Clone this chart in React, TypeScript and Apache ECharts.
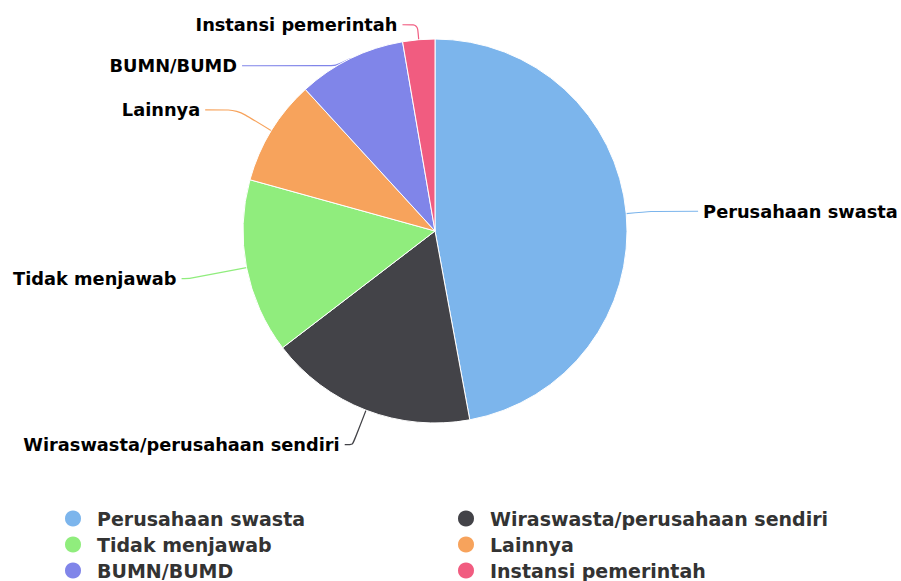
import React, { useEffect, useRef } from "react";
import * as echarts from "echarts";

const categories = [
  "Perusahaan swasta",
  "Wiraswasta/perusahaan sendiri",
  "Tidak menjawab",
  "Lainnya",
  "BUMN/BUMD",
  "Instansi pemerintah",
];
const values = [47.1, 17.5, 14.7, 8.9, 9.1, 2.7];
const colors = ["#7cb5ec", "#434348", "#90ed7d", "#f7a35c", "#8085e9", "#f15c80"];
const legendLeftColumn = ["Perusahaan swasta", "Tidak menjawab", "BUMN/BUMD"];
const legendRightColumn = ["Wiraswasta/perusahaan sendiri", "Lainnya", "Instansi pemerintah"];

// connector styling per slice (first segment, second segment)
const connectorLen = [25, 37, 58, 40, -8, 15];
const connectorLen2 = [47, 8, 8, 32, 112, 15];

export default function App() {
  const ref = useRef<HTMLDivElement>(null);
  useEffect(() => {
    if (!ref.current) return;
    const chart = echarts.init(ref.current, undefined, { renderer: "svg" });
    const legendCommon = {
      orient: "vertical" as const,
      icon: "circle",
      itemWidth: 18,
      itemHeight: 18,
      itemGap: 6,
      top: 508.5,
      height: 120,
      padding: 0,
      selectedMode: false,
      textStyle: {
        fontFamily: "DejaVu Sans",
        fontWeight: "bold" as const,
        fontSize: 19,
        lineHeight: 19,
        color: "#333333",
        padding: [0, 0, 0, 10],
      },
    };
    chart.setOption({
      animation: false,
      color: colors,
      legend: [
        { ...legendCommon, left: 63, data: legendLeftColumn },
        { ...legendCommon, left: 456, data: legendRightColumn },
      ],
      series: [
        {
          type: "pie",
          center: [435, 231],
          radius: 192,
          startAngle: 90,
          clockwise: true,
          avoidLabelOverlap: true,
          itemStyle: { borderColor: "#ffffff", borderWidth: 1 },
          label: {
            show: true,
            position: "outside",
            formatter: "{b}",
            fontFamily: "DejaVu Sans",
            fontWeight: "bold",
            fontSize: 17.8,
            color: "#000000",
            overflow: "none",
            bleedMargin: 0,
            distanceToLabelLine: 5,
          },
          labelLine: { show: true, smooth: 0.2, lineStyle: { width: 1.2 } },
          emphasis: { disabled: true },
          data: categories.map((name, i) => ({
            name,
            value: values[i],
            labelLine: { length: connectorLen[i], length2: connectorLen2[i] },
          })),
        },
      ],
    });
    return () => chart.dispose();
  }, []);
  return (
    <div
      ref={ref}
      style={{ position: "fixed", left: 0, top: 0, width: 901, height: 581, background: "#ffffff" }}
    />
  );
}
